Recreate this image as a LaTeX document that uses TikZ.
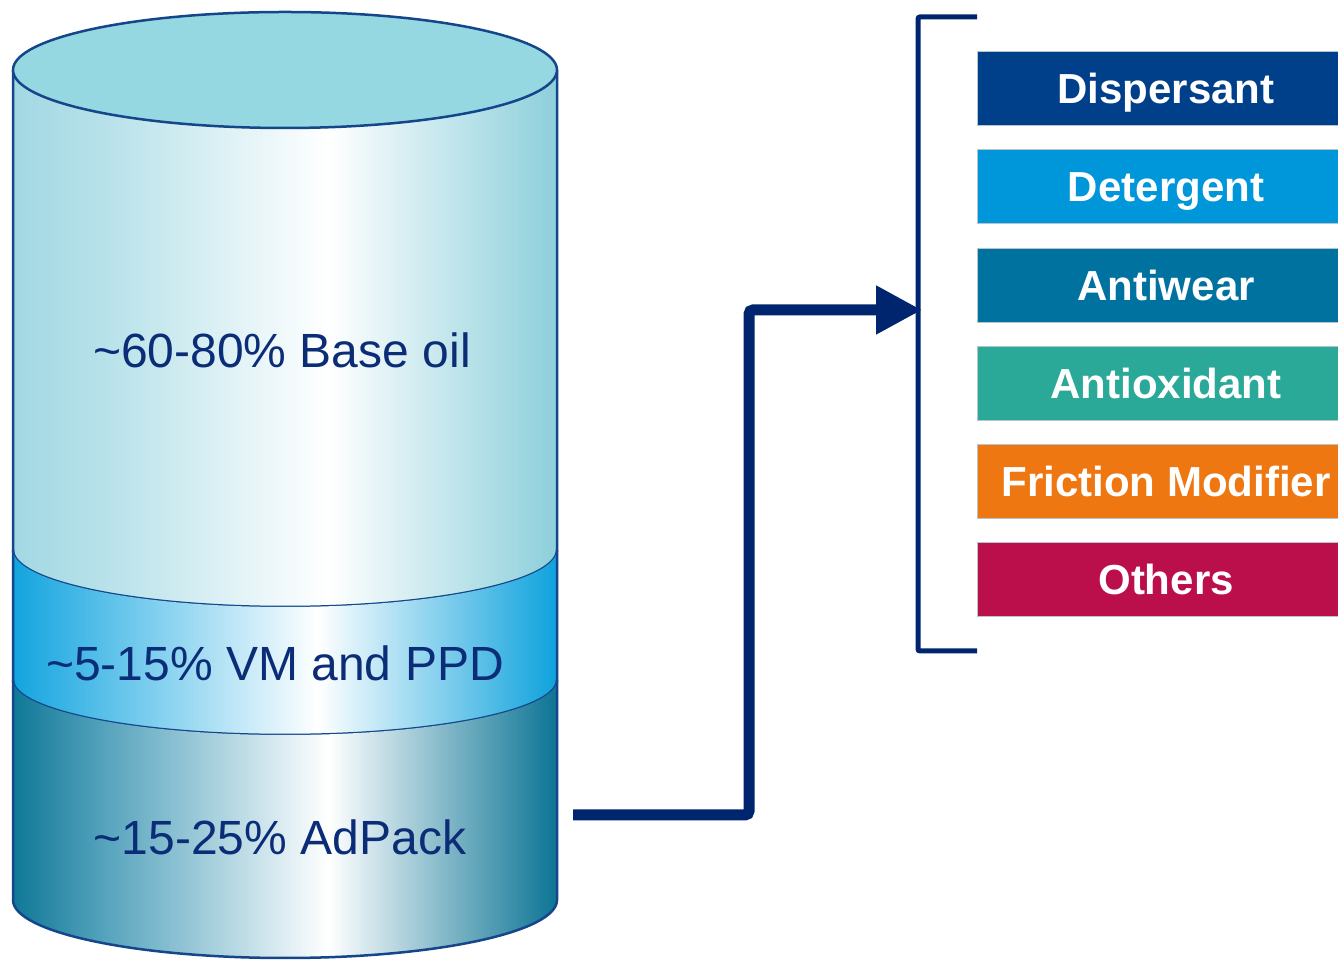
\documentclass[tikz,border=0pt]{standalone}
\usepackage{fontspec}
\setmainfont{Liberation Sans}
\usetikzlibrary{arrows.meta}
\definecolor{outl}{HTML}{15458A}
\definecolor{navy}{HTML}{00256F}
\definecolor{txtnavy}{HTML}{0B2D78}
\definecolor{topfill}{HTML}{95D8E2}
\definecolor{baseL}{HTML}{A2D8E3}
\definecolor{baseM}{HTML}{B9E2EA}
\definecolor{baseR}{HTML}{8CCFDB}
\definecolor{vmL}{HTML}{12A4DF}
\definecolor{vmM}{HTML}{5EC2EA}
\definecolor{vmR}{HTML}{0EA2DC}
\definecolor{adL}{HTML}{0F7897}
\definecolor{adM}{HTML}{5AA6BF}
\definecolor{adR}{HTML}{0C7494}
\definecolor{cDisp}{HTML}{00408A}
\definecolor{cDet}{HTML}{0096DA}
\definecolor{cAnw}{HTML}{0072A0}
\definecolor{cAox}{HTML}{2AA898}
\definecolor{cFric}{HTML}{EE7712}
\definecolor{cOth}{HTML}{BB0F4C}
\definecolor{boxedge}{HTML}{B8C4CC}
\pgfdeclarehorizontalshading{baseshade}{100bp}{color(0bp)=(baseL); color(25bp)=(baseL); color(34bp)=(baseM); color(54bp)=(white); color(75bp)=(baseR); color(100bp)=(baseR)}
\pgfdeclarehorizontalshading{vmshade}{100bp}{color(0bp)=(vmL); color(25bp)=(vmL); color(34bp)=(vmM); color(53bp)=(white); color(75bp)=(vmR); color(100bp)=(vmR)}
\pgfdeclarehorizontalshading{adshade}{100bp}{color(0bp)=(adL); color(25bp)=(adL); color(34bp)=(adM); color(54bp)=(white); color(75bp)=(adR); color(100bp)=(adR)}
\tikzset{
  band/.style={draw=outl, line width=2.5pt},
  cyltext/.style={text=txtnavy, font=\fontsize{48}{56}\selectfont, inner sep=0pt},
  addbox/.style={draw=boxedge, line width=1pt, minimum width=378pt, minimum height=74pt, inner sep=0pt, text height=30pt, text depth=0pt, text=white, font=\fontsize{42}{50}\selectfont\bfseries},
  flowline/.style={draw=navy, line width=11pt, rounded corners=4pt, -{Triangle[length=46pt,width=46pt]}},
  bracketline/.style={draw=navy, line width=5pt, rounded corners=2pt}
}
\begin{document}
\begin{tikzpicture}[x=1pt,y=1pt]
\useasboundingbox (0,0) rectangle (1338,960);
% cylinder bands
\shade[shading=baseshade] (13,890) -- (13,410) arc[start angle=180,end angle=360,x radius=272,y radius=57] -- (557,890) arc[start angle=0,end angle=-180,x radius=272,y radius=58] -- cycle;
\draw[band] (13,890) -- (13,410) arc[start angle=180,end angle=360,x radius=272,y radius=57] -- (557,890);
\shade[shading=vmshade] (13,410) -- (13,280) arc[start angle=180,end angle=360,x radius=272,y radius=55] -- (557,410) arc[start angle=0,end angle=-180,x radius=272,y radius=57] -- cycle;
\draw[band] (13,410) -- (13,280) arc[start angle=180,end angle=360,x radius=272,y radius=55] -- (557,410);
\shade[shading=adshade] (13,280) -- (13,60) arc[start angle=180,end angle=360,x radius=272,y radius=58] -- (557,280) arc[start angle=0,end angle=-180,x radius=272,y radius=55] -- cycle;
\draw[band] (13,280) -- (13,60) arc[start angle=180,end angle=360,x radius=272,y radius=58] -- (557,280);
\draw[band, fill=topfill] (285,890) ellipse[x radius=272, y radius=58];
% cylinder texts
\node[cyltext] (base) at (282,610) {\textasciitilde 60-80\% Base oil};
\node[cyltext] (vm) at (275,297) {\textasciitilde 5-15\% VM and PPD};
\node[cyltext] (ad) at (280,123) {\textasciitilde 15-25\% AdPack};
% additive boxes
\node[addbox, fill=cDisp] (disp) at (1166,871) {Dispersant};
\node[addbox, fill=cDet] (det) at (1166,773) {Detergent};
\node[addbox, fill=cAnw] (anw) at (1166,674.5) {Antiwear};
\node[addbox, fill=cAox] (aox) at (1166,576.5) {Antioxidant};
\node[addbox, fill=cFric] (fric) at (1166,478.5) {Friction Modifier};
\node[addbox, fill=cOth] (oth) at (1166,380) {Others};
% bracket
\coordinate (brtop) at (977,943);
\coordinate (brbot) at (977,309);
\draw[bracketline] (brtop) -- ++(-59,0) |- (brbot);
% arrow
\coordinate (adout) at (573,145);
\coordinate (brk) at (922,650);
\draw[flowline] (adout) -- ++(176,0) |- (brk);
\end{tikzpicture}
\end{document}
